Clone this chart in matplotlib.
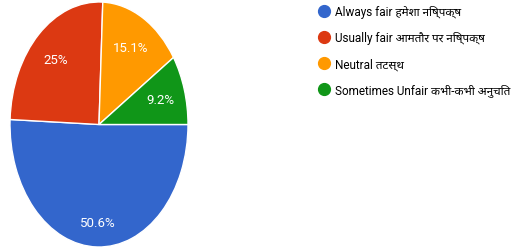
import matplotlib
matplotlib.use('Agg')
import matplotlib.pyplot as plt
from matplotlib.lines import Line2D
import numpy as np

labels = ['Always fair हमेशा निष्पक्ष', 'Usually fair आमतौर पर निष्पक्ष',
          'Neutral तटस्थ', 'Sometimes Unfair कभी-कभी अनुचित']
values = [50.6, 25.0, 15.1, 9.2]
pct_text = ['50.6%', '25%', '15.1%', '9.2%']
colors = ['#3366cc', '#dc3912', '#ff9900', '#109618']

plt.rcParams['font.family'] = ['Roboto', 'Noto Sans Devanagari', 'Lohit Devanagari',
                               'Noto Sans', 'DejaVu Sans']

fig = plt.figure(figsize=(5.24, 2.51), dpi=100)

# pie is stretched vertically in the reference, so aspect is left auto
ax = fig.add_axes([10 / 524, 3 / 251, 178 / 524, 245 / 251])
wedges, texts = ax.pie(values, colors=colors, startangle=0, counterclock=False,
                       wedgeprops=dict(edgecolor='white', linewidth=1))
ax.set_aspect('auto')
ax.set_xlim(-1, 1)
ax.set_ylim(-1, 1)

for w, t in zip(wedges, pct_text):
    ang = np.deg2rad((w.theta1 + w.theta2) / 2)
    d = 0.8 if abs(np.sin(ang)) > 0.99 else 0.72
    ax.text(d * np.cos(ang), d * np.sin(ang), t, ha='center', va='center',
            color='white', fontsize=9.5)

handles = [Line2D([], [], marker='o', linestyle='none', markersize=8.5,
                  markerfacecolor=c, markeredgecolor=c) for c in colors]
fig.legend(handles, labels, loc='upper left', bbox_to_anchor=(314 / 524, 0.993),
           frameon=False, fontsize=8.5, handlelength=0.9, handletextpad=0.45,
           labelspacing=1.1, borderaxespad=0)

fig.savefig('out.png', dpi=100)
